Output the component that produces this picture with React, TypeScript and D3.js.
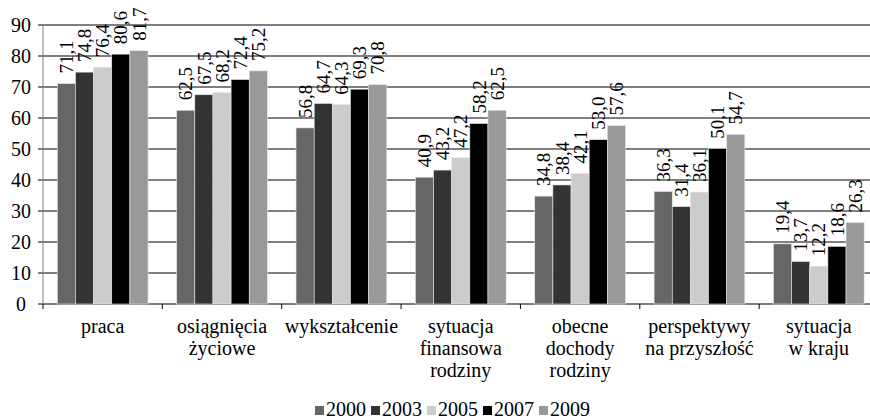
import React from "react";
import * as d3 from "d3";

const categories: string[][] = [
  ["praca"],
  ["osiągnięcia", "życiowe"],
  ["wykształcenie"],
  ["sytuacja", "finansowa", "rodziny"],
  ["obecne", "dochody", "rodziny"],
  ["perspektywy", "na przyszłość"],
  ["sytuacja", "w kraju"],
];
const years = ["2000", "2003", "2005", "2007", "2009"];
const colors = ["#666666", "#333333", "#cccccc", "#000000", "#999999"];

const v2000 = [71.1, 62.5, 56.8, 40.9, 34.8, 36.3, 19.4];
const v2003 = [74.8, 67.5, 64.7, 43.2, 38.4, 31.4, 13.7];
const v2005 = [76.4, 68.2, 64.3, 47.2, 42.1, 36.1, 12.2];
const v2007 = [80.6, 72.4, 69.3, 58.2, 53.0, 50.1, 18.6];
const v2009 = [81.7, 75.2, 70.8, 62.5, 57.6, 54.7, 26.3];
const series = [v2000, v2003, v2005, v2007, v2009];

const yTicks = [0, 10, 20, 30, 40, 50, 60, 70, 80, 90];

const FONT = "Times New Roman";

const App = (): React.JSX.Element => {
  const width = 870;
  const height = 420;
  const left = 43;
  const right = 878.5;
  const top = 25;
  const bottom = 304;

  const keys = categories.map((c) => c.join(" "));
  const x = d3.scaleBand<string>().domain(keys).range([left, right]).paddingInner(0.24).paddingOuter(0.12);
  const xs = d3.scaleBand<string>().domain(years).range([0, x.bandwidth()]);
  const y = d3.scaleLinear().domain([0, 90]).range([bottom, top]);
  const step = x.step();
  const fmt = (v: number) => v.toFixed(1).replace(".", ",");

  return (
    <svg width={width} height={height} style={{ position: "absolute", left: 0, top: 0, fontFamily: FONT }}>
      <rect width={width} height={height} fill="#fff" />
      {yTicks.map((t) => (
        <g key={t}>
          <line x1={left} x2={width} y1={y(t)} y2={y(t)} stroke="#000" strokeWidth={1} />
          <line x1={left - 5} x2={left} y1={y(t)} y2={y(t)} stroke="#000" strokeWidth={1} />
          <text x={21} y={y(t)} dy="0.35em" textAnchor="middle" fontSize={20} style={{ fontFamily: FONT }}>
            {t}
          </text>
        </g>
      ))}
      <line x1={left} x2={left} y1={top} y2={bottom} stroke="#808080" strokeWidth={1} />
      {keys.map((k, i) => (
        <line
          key={"t" + k}
          x1={left + i * step}
          x2={left + i * step}
          y1={bottom}
          y2={bottom + 5}
          stroke="#000"
        />
      ))}
      {series.map((vals, si) => (
        <g key={years[si]} fill={colors[si]}>
          {vals.map((v, ci) => (
            <rect
              key={ci}
              x={(x(keys[ci]) as number) + (xs(years[si]) as number)}
              y={y(v)}
              width={xs.bandwidth()}
              height={bottom - y(v)}
              stroke="#e6e6e6"
              strokeWidth={0.6}
            />
          ))}
        </g>
      ))}
      {series.map((vals, si) =>
        vals.map((v, ci) => {
          const cx = (x(keys[ci]) as number) + (xs(years[si]) as number) + xs.bandwidth() / 2;
          const cy = y(v) - 10;
          return (
            <text
              key={years[si] + ci}
              transform={`translate(${cx},${cy}) rotate(-90)`}
              dy="0.35em"
              textAnchor="start"
              fontSize={19}
              style={{ fontFamily: FONT }}
            >
              {fmt(v)}
            </text>
          );
        })
      )}
      {categories.map((lines, ci) =>
        lines.map((l, li) => (
          <text
            key={keys[ci] + li}
            x={(x(keys[ci]) as number) + x.bandwidth() / 2}
            y={333 + li * 22}
            textAnchor="middle"
            fontSize={20}
            style={{ fontFamily: FONT }}
          >
            {l}
          </text>
        ))
      )}
      {years.map((yr, i) => (
        <g key={yr} transform={`translate(${315 + i * 56},0)`}>
          <rect x={0} y={406} width={9} height={9} fill={colors[i]} />
          <text x={11} y={416} fontSize={20} style={{ fontFamily: FONT }}>
            {yr}
          </text>
        </g>
      ))}
    </svg>
  );
};

export default App;
